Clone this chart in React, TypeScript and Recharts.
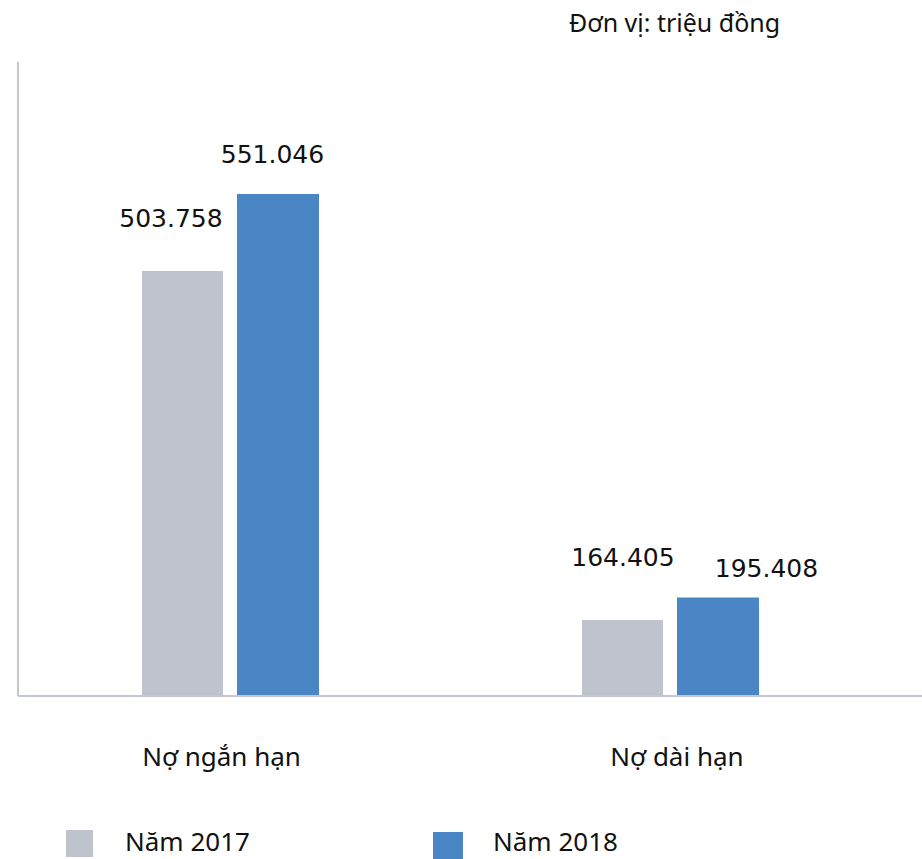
import React from 'react';
import { BarChart, Bar, XAxis, YAxis, LabelList } from 'recharts';

// Categories (x axis)
const categories = ['Nợ ngắn hạn', 'Nợ dài hạn'];
// Series names (legend)
const seriesNames = ['Năm 2017', 'Năm 2018'];
// Printed values, million VND
const values2017 = [503758, 164405];
const values2018 = [551046, 195408];
// Bar lengths as drawn in the reference (the original bars are not proportional to the printed values)
const drawn2017 = [466600, 83400];
const drawn2018 = [551046, 108100];
const unitLabel = 'Đơn vị: triệu đồng';

const COLORS = ['#bfc3ce', '#4a86c6'];
const AXIS = '#c3c7d1';
const ROUND_FONT = '"Noto Sans", sans-serif';

const data = categories.map((name, i) => ({
  name,
  h2017: drawn2017[i],
  h2018: drawn2018[i],
  v2017: values2017[i],
  v2018: values2018[i],
}));

const fmt = (v: number) => String(v).replace(/\B(?=(\d{3})+(?!\d))/g, '.');

const labelOffsets2017 = [{ dx: -11.5, dy: -44 }, { dx: 0.5, dy: -54 }];
const labelOffsets2018 = [{ dx: -5.5, dy: -31 }, { dx: 48.5, dy: -21 }];

const makeLabel = (offsets: { dx: number; dy: number }[]) => (props: any) => {
  const vb = props.viewBox || props;
  const x = vb.x ?? props.x;
  const y = vb.y ?? props.y;
  const width = vb.width ?? props.width;
  const idx = props.index ?? 0;
  const o = offsets[idx] || { dx: 0, dy: 0 };
  return (
    <text
      x={x + width / 2 + o.dx}
      y={y + o.dy}
      textAnchor="middle"
      fontFamily='"DejaVu Sans", sans-serif'
      fontSize={25}
      fill="#111"
    >
      {fmt(Number(props.value))}
    </text>
  );
};

const tickDx = [-8.5, 7];
const CatTick = (props: any) => {
  const { x, y, payload, index } = props;
  return (
    <text
      x={x + (tickDx[index] ?? 0)}
      y={y + 70}
      textAnchor="middle"
      fontFamily={ROUND_FONT}
      fontSize={26}
      fill="#111"
    >
      {payload.value}
    </text>
  );
};

export default function App() {
  return (
    <div style={{ position: 'absolute', left: 0, top: 0, width: 922, height: 859, background: '#fff' }}>
      <BarChart
        width={922}
        height={859}
        data={data}
        margin={{ top: 62, right: 0, bottom: 0, left: 8 }}
        barGap={14}
      >
        <YAxis
          width={10}
          domain={[0, 696000]}
          allowDataOverflow
          tick={false}
          tickLine={false}
          axisLine={{ stroke: AXIS, strokeWidth: 2 }}
        />
        <XAxis
          dataKey="name"
          height={163}
          padding={{ left: -8, right: 32 }}
          tickSize={0}
          tickMargin={0}
          tickLine={false}
          axisLine={{ stroke: AXIS, strokeWidth: 2 }}
          tick={<CatTick />}
          interval={0}
        />
        <Bar dataKey="h2017" name={seriesNames[0]} fill={COLORS[0]} barSize={81} isAnimationActive={false}>
          <LabelList dataKey="v2017" content={makeLabel(labelOffsets2017)} />
        </Bar>
        <Bar dataKey="h2018" name={seriesNames[1]} fill={COLORS[1]} barSize={82} isAnimationActive={false}>
          <LabelList dataKey="v2018" content={makeLabel(labelOffsets2018)} />
        </Bar>
      </BarChart>
      <svg
        width={922}
        height={859}
        style={{ position: 'absolute', left: 0, top: 0, pointerEvents: 'none' }}
      >
        <text x={569} y={32} fontFamily={ROUND_FONT} fontSize={25} fill="#111">
          {unitLabel}
        </text>
        <rect x={66} y={830} width={27} height={27} fill={COLORS[0]} />
        <text x={125} y={851} fontFamily={ROUND_FONT} fontSize={26} fill="#111">
          {seriesNames[0]}
        </text>
        <rect x={433} y={832} width={30} height={27} fill={COLORS[1]} />
        <text x={493} y={851} fontFamily={ROUND_FONT} fontSize={26} fill="#111">
          {seriesNames[1]}
        </text>
      </svg>
    </div>
  );
}
